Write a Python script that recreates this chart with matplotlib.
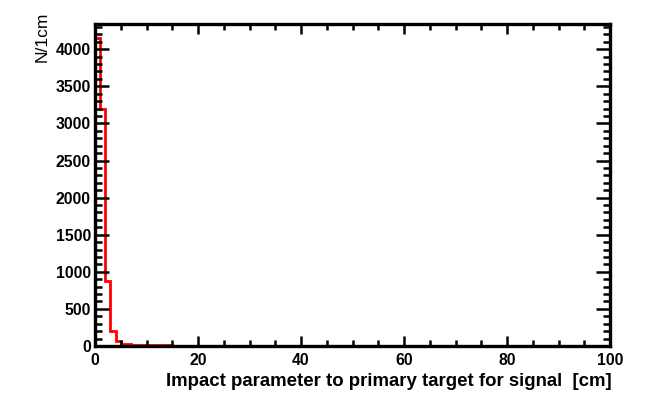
import numpy as np
import matplotlib.pyplot as plt
from matplotlib.ticker import MultipleLocator

# contenu par bin de 1 cm (0 -> 100 cm)
counts = [4150, 3190, 870, 200, 65, 30, 22, 18, 15, 12,
          10, 9, 8, 8, 7, 6, 6, 5, 5, 5,
          4, 4, 4, 4, 3, 3, 3, 3, 3, 3,
          3, 2, 2, 2, 2, 2, 2, 2, 2, 2,
          2, 2, 2, 2, 2, 1, 1, 1, 1, 1,
          1, 1, 1, 1, 1, 1, 1, 1, 1, 1,
          1, 1, 1, 1, 1, 1, 1, 1, 1, 1,
          1, 1, 1, 1, 1, 1, 1, 1, 1, 1,
          1, 1, 1, 1, 1, 1, 1, 1, 1, 1,
          1, 1, 1, 1, 1, 1, 1, 1, 1, 1]
edges = np.arange(0, 101, 1)
xtitle = 'Impact parameter to primary target for signal  [cm]'
ytitle = 'N/1cm'

plt.rcParams['font.family'] = ['Liberation Sans', 'DejaVu Sans']

fig = plt.figure(figsize=(6.49, 4.15), dpi=100)
ax = fig.add_axes([95/649, 1-346/415, (610-95)/649, (346-24)/415])
ax.stairs(counts, edges, color='red', lw=2.0)

ax.set_xlim(0, 100)
ax.set_ylim(0, 4340)
ax.xaxis.set_major_locator(MultipleLocator(20))
ax.xaxis.set_minor_locator(MultipleLocator(5))
ax.yaxis.set_major_locator(MultipleLocator(500))
ax.yaxis.set_minor_locator(MultipleLocator(100))

for s in ax.spines.values():
    s.set_linewidth(2.4)
ax.tick_params(which='both', direction='in', top=True, right=True, width=1.8)
ax.tick_params(axis='x', which='major', length=7, pad=5)
ax.tick_params(axis='x', which='minor', length=4)
ax.tick_params(axis='y', which='major', length=10, pad=3)
ax.tick_params(axis='y', which='minor', length=5)
for lab in ax.get_xticklabels() + ax.get_yticklabels():
    lab.set_fontsize(11.3)
    lab.set_fontweight('bold')

fig.text(612/649, 1-381/415, xtitle, ha='right', va='center',
         fontsize=13.4, fontweight='bold')
fig.text(42/649, 1-12/415, ytitle, ha='center', va='top',
         rotation=90, fontsize=12.5)

plt.savefig('out.png', dpi=100)
